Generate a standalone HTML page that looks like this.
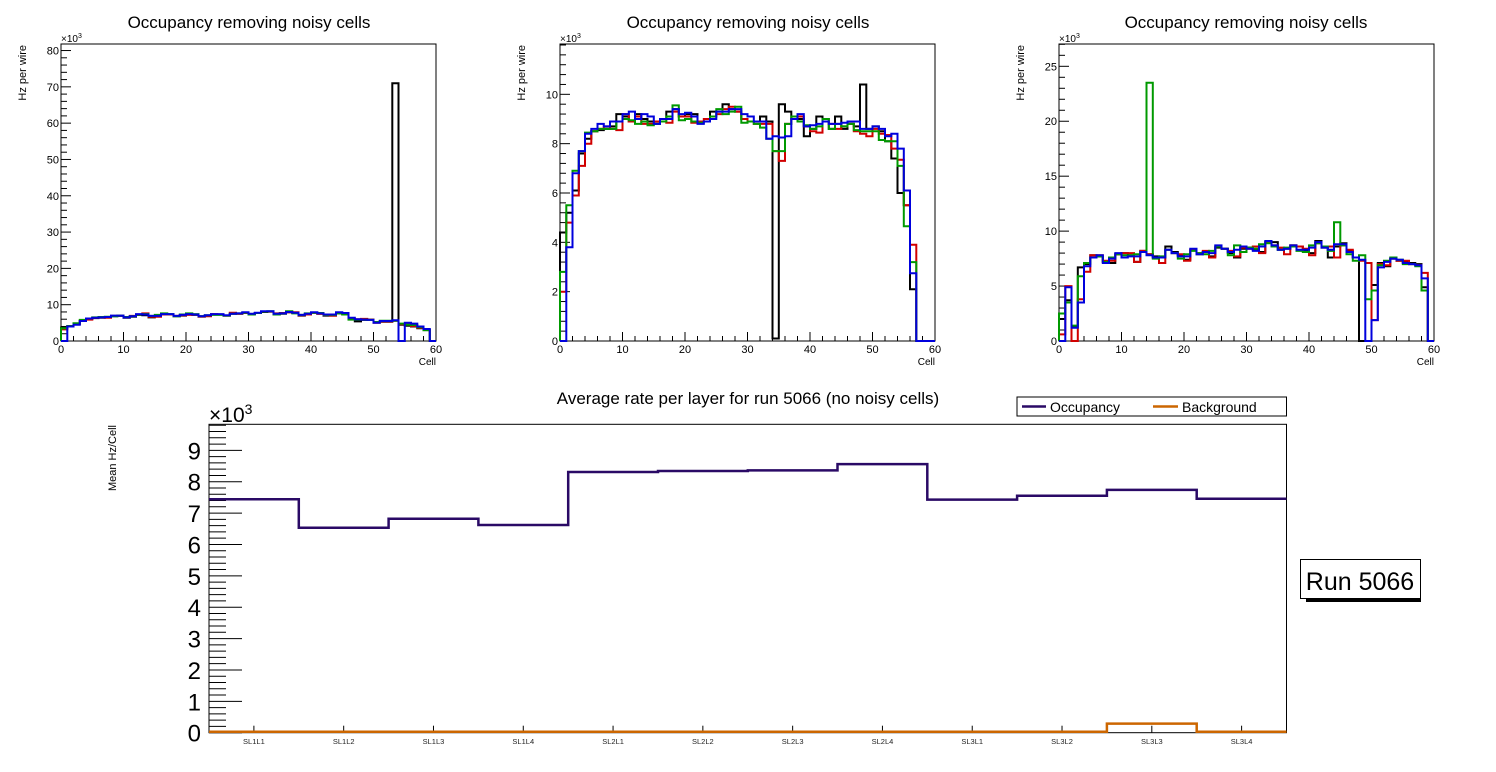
<!DOCTYPE html>
<html><head><meta charset="utf-8">
<style>
html,body{margin:0;padding:0;background:#fff;}
svg{display:block;font-family:"Liberation Sans",Arial,sans-serif;}
</style></head>
<body>
<svg id="svg" width="1496" height="772" viewBox="0 0 1496 772" xmlns="http://www.w3.org/2000/svg"></svg>
<script>
// ---------- data (values in thousands of Hz) ----------
const cells = 60;
const p1Black = [3.7,4.1,4.8,5.6,6.1,6.3,6.4,6.6,6.8,6.9,6.4,6.7,7.2,7.1,6.5,6.8,7.3,7.3,6.8,7.0,7.3,7.2,6.8,6.9,7.3,7.3,7.0,7.5,7.5,7.8,7.4,7.7,8.0,8.1,7.4,7.5,7.9,7.7,7.0,7.3,7.8,7.5,7.0,7.0,7.7,7.3,6.1,5.4,5.8,5.9,5.2,5.3,5.3,71.0,4.5,4.2,4.0,3.5,3.0,0];
const p1Red =   [3.2,4.0,4.7,5.6,5.9,6.4,6.5,6.4,6.9,7.0,6.6,6.9,7.3,7.6,6.7,6.7,7.3,7.3,6.9,7.1,7.2,7.3,6.7,6.8,7.4,7.3,7.0,7.8,7.5,7.7,7.4,7.7,8.1,8.1,7.6,7.7,7.9,7.9,7.1,7.3,7.8,7.5,7.2,7.0,7.6,7.5,6.1,6.0,6.1,5.9,5.0,5.4,5.4,5.6,4.6,4.6,4.1,3.6,3.1,0];
const p1Green = [3.5,4.1,4.9,5.8,6.2,6.5,6.6,6.7,6.8,7.0,6.6,6.8,7.3,7.4,6.9,7.2,7.6,7.4,6.8,7.3,7.6,7.4,6.8,7.1,7.2,7.2,7.0,7.5,7.6,7.8,7.3,7.7,8.1,8.2,7.3,7.6,8.2,7.6,7.2,7.6,7.8,7.7,7.2,7.2,7.6,7.3,5.9,5.9,5.9,5.8,5.2,5.6,5.6,5.6,4.8,4.5,4.4,3.8,3.0,0];
const p1Blue =  [0,4.0,4.5,5.5,6.2,6.4,6.5,6.6,7.0,7.0,6.5,6.8,7.4,7.3,6.9,6.9,7.4,7.4,6.9,7.2,7.4,7.3,6.8,7.1,7.4,7.4,7.1,7.5,7.6,7.9,7.5,7.8,8.2,8.2,7.5,7.6,8.0,7.8,7.2,7.5,7.9,7.6,7.3,7.3,7.9,7.7,6.4,6.0,5.9,5.8,5.0,5.5,5.5,5.7,0,5.0,4.8,4.0,3.3,0];

const p2Black = [4.4,5.2,6.1,7.6,8.2,8.5,8.55,8.6,8.7,9.2,9.1,8.9,9.2,9.0,8.9,8.8,9.0,9.3,9.4,9.1,9.2,9.2,8.9,8.9,9.3,9.3,9.6,9.4,9.3,9.0,8.9,8.9,9.1,8.9,0.1,9.6,9.3,9.0,9.0,8.3,8.6,9.1,9.0,8.6,9.1,8.6,8.8,8.7,10.4,8.6,8.7,8.5,8.1,7.4,6.0,5.5,2.1,0,0,0];
const p2Red =   [2.0,4.8,5.9,7.1,8.0,8.5,8.6,8.7,8.6,8.55,9.2,8.9,9.1,8.8,8.8,8.9,8.9,8.85,9.3,9.1,9.1,8.85,8.9,9.0,9.1,9.2,9.4,9.5,9.3,9.0,8.9,8.8,8.8,8.8,7.7,7.3,8.8,9.0,9.1,8.7,8.5,8.45,8.9,8.8,8.6,8.7,8.8,8.5,8.4,8.3,8.6,8.4,8.35,7.8,7.35,5.5,3.9,0,0,0];
const p2Green = [2.8,5.5,6.9,7.7,8.45,8.5,8.6,8.6,8.6,8.9,9.0,8.95,8.8,8.9,8.75,8.8,8.9,9.1,9.55,8.95,9.0,8.9,8.85,8.9,9.1,9.4,9.2,9.3,9.5,8.85,8.9,8.8,8.65,8.2,7.7,7.7,8.8,9.1,8.9,8.75,8.6,8.7,9.0,8.6,8.8,8.7,8.8,8.55,8.5,8.5,8.5,8.15,8.1,8.1,7.1,4.65,3.2,0,0,0];
const p2Blue =  [0,3.8,6.8,7.7,8.4,8.6,8.8,8.7,8.9,8.9,9.2,9.3,9.0,9.2,9.1,8.8,9.0,9.0,9.4,9.2,9.25,9.1,8.8,8.9,9.0,9.3,9.3,9.4,9.4,9.2,9.1,8.9,8.9,8.2,8.3,8.25,8.3,9.0,9.2,8.7,8.75,8.8,8.9,8.8,8.8,8.85,8.9,8.9,8.6,8.6,8.7,8.6,8.3,8.4,7.8,6.1,2.75,0,0,0];

const p3Black = [2.0,3.7,1.3,6.7,7.0,7.8,7.7,7.2,7.1,7.9,8.0,7.8,7.2,8.2,7.9,7.7,7.6,8.6,8.1,7.8,7.4,8.3,7.9,8.1,7.7,8.5,8.4,8.0,7.6,8.4,8.5,8.3,8.1,9.0,9.0,8.3,8.4,8.7,8.6,8.2,8.0,9.1,8.5,7.6,8.6,8.9,8.2,7.6,0,0,5.1,7.1,6.8,7.5,7.3,7.2,7.1,7.0,4.9,0];
const p3Red =   [0.6,5.0,0,3.8,6.3,7.8,7.8,7.3,7.3,7.9,8.0,8.0,7.2,8.2,7.9,7.6,7.1,8.3,8.0,7.9,7.3,8.3,8.0,8.2,7.6,8.6,8.4,8.2,7.7,8.5,8.4,8.6,8.0,9.0,8.7,8.5,7.9,8.7,8.6,8.4,7.8,8.9,8.6,8.6,7.6,8.7,8.3,7.6,7.3,7.1,1.9,7.0,6.9,7.5,7.3,7.3,7.0,6.9,6.2,0];
const p3Green = [2.5,3.5,1.4,5.9,7.1,7.6,7.7,7.2,7.6,7.9,7.8,7.8,7.9,8.1,23.5,7.5,7.7,8.3,8.0,7.5,7.9,8.2,8.0,7.9,8.2,8.6,8.4,7.8,8.7,8.1,8.5,8.4,8.8,8.9,8.6,8.3,8.5,8.6,8.2,8.1,8.7,8.9,8.6,8.2,10.8,8.7,7.9,7.3,7.8,3.8,4.6,6.9,7.3,7.6,7.4,7.0,7.0,6.8,4.6,0];
const p3Blue =  [0,4.9,1.2,3.5,6.8,7.6,7.8,7.1,7.5,8.0,7.6,7.7,7.7,8.1,7.8,7.6,7.6,8.3,8.0,7.7,7.7,8.4,7.9,8.1,8.0,8.7,8.4,8.1,8.3,8.6,8.4,8.2,8.6,9.1,8.7,8.3,8.4,8.7,8.3,8.3,8.5,9.0,8.5,8.3,8.8,8.8,8.1,7.6,7.4,0,1.9,6.7,7.2,7.5,7.4,7.1,7.0,6.9,5.7,0];

const layers = ["SL1L1","SL1L2","SL1L3","SL1L4","SL2L1","SL2L2","SL2L3","SL2L4","SL3L1","SL3L2","SL3L3","SL3L4"];
const occupancy = [7.44,6.53,6.82,6.62,8.31,8.34,8.36,8.56,7.43,7.55,7.74,7.46];
const background = [0.03,0.03,0.03,0.03,0.03,0.03,0.03,0.03,0.03,0.03,0.29,0.03];

const p1Ticks = [0,10,20,30,40,50,60,70,80];
const p2Ticks = [0,2,4,6,8,10];
const p3Ticks = [0,5,10,15,20,25];
const xTicks = [0,10,20,30,40,50,60];
const bottomTicks = [0,1,2,3,4,5,6,7,8,9];

// ---------- drawing ----------
const NS = "http://www.w3.org/2000/svg";
const svg = document.getElementById('svg');
function mk(tag, attrs, parent, text){
  const e = document.createElementNS(NS, tag);
  for (const k in attrs) e.setAttribute(k, attrs[k]);
  if (text !== undefined) e.textContent = text;
  (parent||svg).appendChild(e);
  return e;
}

function stepPath(vals, sx, sy, x0, closed){
  let d = closed ? ('M' + sx(x0) + ' ' + sy(0)) : ('M' + sx(x0) + ' ' + sy(vals[0]).toFixed(1));
  for (let i=0;i<vals.length;i++){
    d += ' V' + sy(vals[i]).toFixed(1) + ' H' + sx(x0+i+1).toFixed(1);
  }
  if (closed) d += ' V' + sy(0);
  return d;
}

function topPanel(idx, L, R, ymax, yTicks, yMinorStep, series, cx){
  const T = 44, B = 341;
  const g = mk('g', {});
  
  
  const sx = v => L + (R-L)*v/cells;
  const sy = v => B - (B-T)*Math.min(v,ymax)/ymax;
  const title = mk('text', {x:cx, y:28, 'font-size':17, 'text-anchor':'middle'}, g, 'Occupancy removing noisy cells');
  
  
  const frame = mk('rect', {x:L, y:T, width:R-L, height:B-T, fill:'none', stroke:'#000', 'stroke-width':1}, g);
  
  
  for (let v=0; v<=cells; v+=2){
    const major = v%10===0;
    mk('line', {x1:sx(v), x2:sx(v), y1:B, y2:B-(major?9:5), stroke:'#000','stroke-width':1}, g);
  }
  xTicks.forEach(v=>{
    const t = mk('text', {x:sx(v), y:B+12, 'font-size':11, 'text-anchor':'middle'}, g, String(v));
    
    
  });
  for (let v=0; v<=ymax+1e-9; v+=yMinorStep){
    const major = yTicks.some(t=>Math.abs(t-v)<1e-6);
    mk('line', {x1:L, x2:L+(major?10:6), y1:sy(v), y2:sy(v), stroke:'#000','stroke-width':1}, g);
  }
  yTicks.forEach(v=>{
    const t = mk('text', {x:L-2, y:sy(v)+4, 'font-size':11, 'text-anchor':'end'}, g, String(v));
    
    
  });
  const exp = mk('text', {x:L, y:42, 'font-size':10}, g);
  
  
  exp.innerHTML = '×10<tspan dy="-4" font-size="7">3</tspan>';
  const yt = mk('text', {x:0, y:0, 'font-size':11, 'text-anchor':'end', transform:'translate('+(L-35)+',45) rotate(-90)'}, g, 'Hz per wire');
  
  
  const xt = mk('text', {x:R, y:365, 'font-size':10, 'text-anchor':'end'}, g, 'Cell');
  
  
  const cols = ['#000','#d00000','#009900','#0000dd'];
  const names = ['layer1','layer2','layer3','layer4'];
  series.forEach((vals,i)=>{
    const p = mk('path', {d:stepPath(vals,sx,sy,0,true), fill:'none', stroke:cols[i], 'stroke-width':2}, g);
    
    
  });
}

topPanel(1, 61, 436, 81.8, p1Ticks, 2, [p1Black,p1Red,p1Green,p1Blue], 249);
topPanel(2, 560, 935, 12.04, p2Ticks, 0.4, [p2Black,p2Red,p2Green,p2Blue], 748);
topPanel(3, 1059, 1434, 27.03, p3Ticks, 1, [p3Black,p3Red,p3Green,p3Blue], 1246);

// ---------- bottom chart ----------
(function(){
  const L=209, R=1286.5, T=424.3, B=732.7, ymax=9.83;
  const n = layers.length;
  const g = mk('g', {});
  
  
  const sx = v => L + (R-L)*v/n;
  const sy = v => B - (B-T)*v/ymax;
  const title = mk('text', {x:748, y:404, 'font-size':17, 'text-anchor':'middle'}, g, 'Average rate per layer for run 5066 (no noisy cells)');
  
  
  const frame = mk('rect', {x:L, y:T, width:R-L, height:B-T, fill:'none', stroke:'#000','stroke-width':1}, g);
  
  
  for (let v=0; v<=ymax+1e-9; v+=0.2){
    const major = Math.abs(v-Math.round(v))<1e-6;
    mk('line', {x1:L, x2:L+(major?33:17), y1:sy(v), y2:sy(v), stroke:'#000','stroke-width':1}, g);
  }
  bottomTicks.forEach(v=>{
    const t = mk('text', {x:L-8, y:sy(v)+9, 'font-size':24, 'text-anchor':'end'}, g, String(v));
    
    
  });
  const exp = mk('text', {x:L, y:422, 'font-size':21}, g);
  
  
  exp.innerHTML = '×10<tspan dy="-8" font-size="14">3</tspan>';
  const yt = mk('text', {x:0,y:0,'font-size':11,'text-anchor':'end', transform:'translate(116,425) rotate(-90)'}, g, 'Mean Hz/Cell');
  
  
  layers.forEach((lab,i)=>{
    const c = sx(i+0.5);
    mk('line', {x1:c,x2:c,y1:B,y2:B-7,stroke:'#000','stroke-width':1}, g);
    const t = mk('text', {x:c, y:744, 'font-size':7.5, 'text-anchor':'middle', fill:'#222'}, g, lab);
    
    
  });
  const pb = mk('path', {d:stepPath(background,sx,sy,0,false), fill:'none', stroke:'#cc6600','stroke-width':2.5}, g);
  
  
  const po = mk('path', {d:stepPath(occupancy,sx,sy,0,false), fill:'none', stroke:'#2a0a66','stroke-width':2.5}, g);
  
  

  const lg = mk('g', {}, g);
  
  
  mk('rect', {x:1017, y:397, width:269.5, height:19, fill:'#fff', stroke:'#000','stroke-width':1}, lg);
  const e1 = mk('g', {}, lg);
  
  
  mk('line', {x1:1022,x2:1046,y1:406.5,y2:406.5,stroke:'#2a0a66','stroke-width':2.5}, e1);
  mk('text', {x:1050, y:412, 'font-size':14}, e1, 'Occupancy');
  const e2 = mk('g', {}, lg);
  
  
  mk('line', {x1:1153,x2:1178,y1:406.5,y2:406.5,stroke:'#cc6600','stroke-width':2.5}, e2);
  mk('text', {x:1182, y:412, 'font-size':14}, e2, 'Background');

  const rb = mk('g', {}, g);
  
  
  mk('rect', {x:1306, y:565, width:115, height:37, fill:'#000'}, rb);
  mk('rect', {x:1300.5, y:559.5, width:120, height:39, fill:'#fff', stroke:'#000','stroke-width':1}, rb);
  mk('text', {x:1360, y:590, 'font-size':25, 'text-anchor':'middle'}, rb, 'Run 5066');
})();
</script>
</body></html>
